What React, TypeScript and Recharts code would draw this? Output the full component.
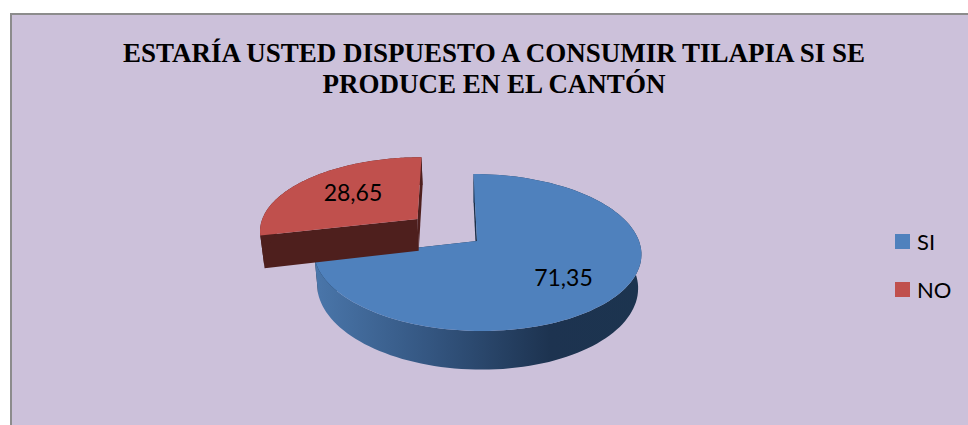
import { PieChart, Pie, Legend } from "recharts";

const categories = ["SI", "NO"];
const values = [71.35, 28.65];
const titleLines = [
  "ESTARÍA USTED DISPUESTO A CONSUMIR TILAPIA SI SE",
  "PRODUCE EN EL CANTÓN",
];

const TOP_COLORS: Record<string, string> = { SI: "#4f81bd", NO: "#c0504d" };
const CUT_COLORS: Record<string, string> = { SI: "#1c3049", NO: "#4e1f1d" };
const WALL_COLORS: Record<string, string> = { SI: "url(#blueWall)", NO: "#4e1f1d" };

const chartData = categories.map((name, i) => ({
  name,
  value: values[i],
  fill: TOP_COLORS[name],
}));

// 3D look: perspective tilt of the pie disc, in units of the radius
const TILT = 0.1465;
const SQUASH = 0.474;
const SHEAR = 4;
const DEPTH = 33;
const EXPLODE: Record<string, number> = { SI: 0, NO: 0.48 };
const LABEL_RADIUS: Record<string, number> = { SI: 0.63, NO: 0.57 };
const LABEL_SHIFT: Record<string, number> = { SI: 4, NO: -3 };

type Pt = { x: number; y: number; d: number };

function project(cx: number, cy: number, r: number, u: number, v: number): Pt {
  const d = 1 - TILT * v;
  return {
    x: cx + (r * u + SHEAR * v) / d,
    y: cy + (r * SQUASH * v) / d,
    d,
  };
}

function unit(deg: number) {
  const a = (deg * Math.PI) / 180;
  return { u: Math.cos(a), v: -Math.sin(a) };
}

function lower(p: Pt, cx: number) {
  return { x: cx + (p.x - cx) * 0.98, y: p.y + DEPTH / p.d };
}

function toPath(pts: { x: number; y: number }[]) {
  return "M" + pts.map((p) => `${p.x.toFixed(1)},${p.y.toFixed(1)}`).join("L") + "Z";
}

function Slice3D(props: any) {
  const { cx, cy, outerRadius, startAngle, endAngle, midAngle, name } = props;
  const mid = unit(midAngle);
  const ex = EXPLODE[name] ?? 0;
  const pos = (u: number, v: number) =>
    project(cx, cy, outerRadius, u + mid.u * ex, v + mid.v * ex);

  const apex = pos(0, 0);
  const rim: Pt[] = [];
  const steps = 120;
  for (let i = 0; i <= steps; i++) {
    const p = unit(startAngle + ((endAngle - startAngle) * i) / steps);
    rim.push(pos(p.u, p.v));
  }
  const first = rim[0];
  const last = rim[rim.length - 1];
  const wall = [...rim, ...rim.map((p) => lower(p, cx)).reverse()];

  return (
    <g>
      <defs>
        <linearGradient id="blueWall" x1="0" y1="0" x2="1" y2="0">
          <stop offset="0%" stopColor="#4a76aa" />
          <stop offset="35%" stopColor="#345681" />
          <stop offset="72%" stopColor="#1d3350" />
          <stop offset="100%" stopColor="#1c344f" />
        </linearGradient>
      </defs>
      <path
        d={toPath([apex, first, lower(first, cx), lower(apex, cx)])}
        fill={CUT_COLORS[name]}
      />
      <path
        d={toPath([apex, last, lower(last, cx), lower(apex, cx)])}
        fill={CUT_COLORS[name]}
      />
      <path d={toPath(wall)} fill={WALL_COLORS[name]} />
      <path d={toPath([apex, ...rim])} fill={TOP_COLORS[name]} />
    </g>
  );
}

function SliceLabel(props: any) {
  const { cx, cy, outerRadius, midAngle, name, value } = props;
  const mid = unit(midAngle);
  const ex = EXPLODE[name] ?? 0;
  const r = LABEL_RADIUS[name] ?? 0.6;
  const p = project(cx, cy, outerRadius, mid.u * (r + ex), mid.v * (r + ex));
  return (
    <text
      x={p.x}
      y={p.y + (LABEL_SHIFT[name] ?? 0)}
      textAnchor="middle"
      dominantBaseline="central"
      fontFamily="Lato, 'Open Sans', sans-serif"
      fontSize={23}
      fill="#000"
    >
      {value.toFixed(2).replace(".", ",")}
    </text>
  );
}

function LegendList({ payload }: any) {
  return (
    <div>
      {(payload ?? []).map((item: any) => (
        <div key={item.value} style={{ display: "flex", alignItems: "center", height: 48 }}>
          <span style={{ width: 15, height: 15, background: item.color, marginRight: 7 }} />
          <span style={{ fontFamily: "Lato, 'Open Sans', sans-serif", fontSize: 22, color: "#000" }}>
            {item.value}
          </span>
        </div>
      ))}
    </div>
  );
}

export default function App() {
  return (
    <div style={{ position: "absolute", left: 0, top: 0, width: 968, height: 425, overflow: "hidden", background: "#fff" }}>
      <div
        style={{
          position: "absolute",
          left: 10,
          top: 13,
          width: 960,
          height: 420,
          background: "#ccc1da",
          borderLeft: "2px solid #8c8c8c",
          borderTop: "2px solid #8c8c8c",
        }}
      />
      <div style={{ position: "absolute", left: 0, top: 0 }}>
        <PieChart width={968} height={425} margin={{ top: 0, right: 0, bottom: 0, left: 0 }}>
          <text
            x={494}
            y={62}
            textAnchor="middle"
            fontFamily="'Liberation Serif', serif"
            fontWeight="bold"
            fontSize={27}
            fill="#000"
          >
            {titleLines[0]}
          </text>
          <text
            x={494}
            y={93}
            textAnchor="middle"
            fontFamily="'Liberation Serif', serif"
            fontWeight="bold"
            fontSize={27}
            fill="#000"
          >
            {titleLines[1]}
          </text>
          <Pie
            data={chartData}
            dataKey="value"
            nameKey="name"
            cx={477}
            cy={241}
            outerRadius={162}
            startAngle={90}
            endAngle={-270}
            stroke="none"
            shape={Slice3D}
            label={SliceLabel}
            labelLine={false}
            isAnimationActive={false}
          />
          <Legend
            layout="vertical"
            align="right"
            verticalAlign="top"
            itemSorter={null}
            content={LegendList}
            wrapperStyle={{ left: 895, top: 217, width: 70 }}
          />
        </PieChart>
      </div>
    </div>
  );
}
